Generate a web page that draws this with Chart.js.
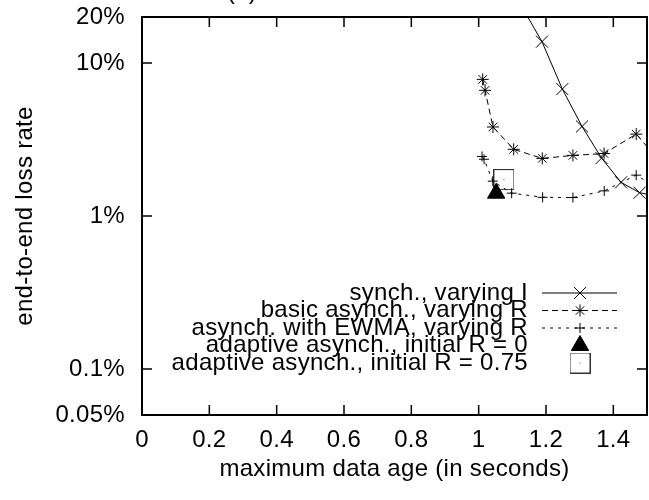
<!DOCTYPE html>
<html>
<head>
<meta charset="utf-8">
<script src="https://cdn.jsdelivr.net/npm/chart.js@4/dist/chart.umd.min.js"></script>
<style>
  html, body { margin: 0; padding: 0; background: #fff; }
  #wrap { width: 649px; height: 500px; position: relative; }
</style>
</head>
<body>
<div id="wrap"><canvas id="chart"></canvas></div>
<script>
// x: maximum data age (seconds), y: end-to-end loss rate (percent)
const synchAge  = [1.13, 1.188, 1.2485, 1.307, 1.365, 1.423, 1.478, 1.537];
const synchLoss = [23, 13.8, 6.76, 3.85, 2.39, 1.66, 1.42, 1.34];

const basicAge  = [1.012, 1.019, 1.0425, 1.104, 1.189, 1.280, 1.3725, 1.468, 1.56];
const basicLoss = [7.82, 6.63, 3.82, 2.73, 2.38, 2.49, 2.56, 3.43, 2.0];

const ewmaAge  = [1.010, 1.016, 1.042, 1.098, 1.19, 1.28, 1.373, 1.468, 1.56];
const ewmaLoss = [2.45, 2.35, 1.69, 1.41, 1.325, 1.32, 1.46, 1.85, 1.39];

const adaptiveR0Age  = [1.052];
const adaptiveR0Loss = [1.41];
const adaptiveR75Age  = [1.075];
const adaptiveR75Loss = [1.73];

const seriesLabels = [
  'synch., varying I',
  'basic asynch., varying R',
  'asynch. with EWMA, varying R',
  'adaptive asynch., initial R = 0',
  'adaptive asynch., initial R = 0.75'
];

const xTickValues = [0, 0.2, 0.4, 0.6, 0.8, 1, 1.2, 1.4];
const yTickValues = [0.05, 0.1, 1, 10, 20];

const FONT_FAMILY = '"Liberation Sans", Arial, Helvetica, sans-serif';
const FONT_SIZE = 24;
const TEXT_SPACING = '0.3px';
const INK = '#000';

const pairs = (xs, ys) => xs.map((x, i) => ({ x, y: ys[i] }));

// open square with a centre dot, used as a point marker
function boxMarker() {
  const c = document.createElement('canvas');
  c.width = 21; c.height = 21;
  const g = c.getContext('2d');
  g.strokeStyle = '#333';
  g.lineWidth = 1;
  g.strokeRect(0.5, 0.5, 20, 20);
  g.fillStyle = '#555';
  g.fillRect(10, 10, 1, 1);
  return c;
}

const spacingPlugin = {
  id: 'textSpacing',
  beforeUpdate(chart) { chart.ctx.letterSpacing = TEXT_SPACING; },
  beforeDraw(chart) { chart.ctx.letterSpacing = TEXT_SPACING; }
};

// border box with inward, mirrored tick marks
const framePlugin = {
  id: 'frame',
  afterDatasetsDraw(chart) {
    const { ctx, chartArea: a, scales: { x, y } } = chart;
    ctx.save();
    ctx.strokeStyle = INK;
    ctx.lineWidth = 1.5;
    ctx.beginPath();
    xTickValues.forEach(v => {
      if (v === x.min || v === x.max) return;
      const px = x.getPixelForValue(v);
      ctx.moveTo(px, a.bottom); ctx.lineTo(px, a.bottom - 10);
      ctx.moveTo(px, a.top);    ctx.lineTo(px, a.top + 10);
    });
    yTickValues.forEach(v => {
      if (v === y.min || v === y.max) return;
      const py = y.getPixelForValue(v);
      ctx.moveTo(a.left, py);  ctx.lineTo(a.left + 10, py);
      ctx.moveTo(a.right, py); ctx.lineTo(a.right - 10, py);
    });
    ctx.stroke();
    ctx.lineWidth = 2;
    ctx.strokeRect(a.left, a.top, a.right - a.left, a.bottom - a.top);
    ctx.restore();
  }
};

// key inside the plot: right-aligned text, sample line and marker to its right
const keyPlugin = {
  id: 'key',
  afterDraw(chart) {
    const { ctx, chartArea: a } = chart;
    const textRight = a.right - 119;
    const lineStart = a.right - 105;
    const lineEnd = a.right - 30;
    const markX = a.right - 67;
    const rowTop = a.bottom - 122;
    const rowStep = 17.5;
    ctx.save();
    ctx.letterSpacing = TEXT_SPACING;
    ctx.font = FONT_SIZE + 'px ' + FONT_FAMILY;
    ctx.textAlign = 'right';
    ctx.textBaseline = 'middle';
    chart.data.datasets.forEach((ds, i) => {
      const yy = rowTop + i * rowStep;
      ctx.fillStyle = INK;
      ctx.fillText(ds.label, textRight, yy);
      if (ds.showLine) {
        ctx.save();
        ctx.strokeStyle = ds.borderColor;
        ctx.lineWidth = ds.borderWidth;
        ctx.setLineDash(ds.borderDash || []);
        ctx.beginPath();
        ctx.moveTo(lineStart, yy);
        ctx.lineTo(lineEnd, yy);
        ctx.stroke();
        ctx.restore();
      }
      ctx.save();
      ctx.strokeStyle = ds.pointBorderColor;
      ctx.fillStyle = ds.pointBackgroundColor;
      ctx.lineWidth = ds.pointBorderWidth;
      Chart.helpers.drawPoint(ctx, {
        pointStyle: ds.pointStyle,
        radius: ds.pointRadius,
        rotation: 0,
        borderWidth: ds.pointBorderWidth
      }, markX, yy);
      ctx.restore();
    });
    // panel caption, mostly above the visible area
    ctx.textAlign = 'center';
    ctx.textBaseline = 'alphabetic';
    ctx.fillText('(a)', 242, -1.5);
    ctx.restore();
  }
};

const lineSeries = (label, data, style, radius, dash) => ({
  label, data,
  showLine: true,
  borderColor: INK,
  borderWidth: 1,
  borderDash: dash,
  pointStyle: style,
  pointRadius: radius,
  pointBorderWidth: 1,
  pointBorderColor: INK,
  pointBackgroundColor: INK,
  tension: 0,
  fill: false,
  clip: 0
});

const tickFont = { family: FONT_FAMILY, size: FONT_SIZE };

new Chart(document.getElementById('chart'), {
  type: 'line',
  data: {
    datasets: [
      lineSeries(seriesLabels[0], pairs(synchAge, synchLoss), 'crossRot', 8.5, []),
      lineSeries(seriesLabels[1], pairs(basicAge, basicLoss), 'star', 6, [6, 4]),
      lineSeries(seriesLabels[2], pairs(ewmaAge, ewmaLoss), 'cross', 5, [3, 5]),
      {
        label: seriesLabels[3], data: pairs(adaptiveR0Age, adaptiveR0Loss),
        showLine: false, pointStyle: 'triangle', pointRadius: 10,
        pointBorderWidth: 1, pointBorderColor: INK, pointBackgroundColor: INK,
        borderColor: INK, clip: 0
      },
      {
        label: seriesLabels[4], data: pairs(adaptiveR75Age, adaptiveR75Loss),
        showLine: false, pointStyle: boxMarker(), pointRadius: 10,
        pointBorderWidth: 1, pointBorderColor: INK, pointBackgroundColor: INK,
        borderColor: INK, clip: 0
      }
    ]
  },
  options: {
    responsive: true,
    maintainAspectRatio: false,
    animation: false,
    events: [],
    layout: { autoPadding: false, padding: { top: 17, right: 2, left: 0, bottom: 0 } },
    plugins: { legend: { display: false }, tooltip: { enabled: false } },
    scales: {
      x: {
        type: 'linear',
        min: 0,
        max: 1.5,
        afterBuildTicks: s => { s.ticks = xTickValues.map(v => ({ value: v })); },
        afterFit: s => { s.height = 85; s.paddingLeft = 0; s.paddingRight = 0; },
        grid: { display: false, drawTicks: false },
        border: { display: false },
        ticks: {
          font: tickFont, color: INK, padding: 11,
          maxRotation: 0, autoSkip: false,
          callback: v => String(v)
        },
        title: {
          display: true, text: 'maximum data age (in seconds)',
          font: tickFont, color: INK, padding: { top: 0, bottom: 16 }
        }
      },
      y: {
        type: 'logarithmic',
        min: 0.05,
        max: 20,
        afterBuildTicks: s => { s.ticks = yTickValues.map(v => ({ value: v })); },
        afterFit: s => { s.width = 142; s.paddingTop = 0; s.paddingBottom = 0; },
        grid: { display: false, drawTicks: false },
        border: { display: false },
        ticks: {
          font: tickFont, color: INK, padding: 17, autoSkip: false,
          callback: v => v + '%'
        },
        title: {
          display: true, text: 'end-to-end loss rate',
          font: tickFont, color: INK, padding: { top: 10.5, bottom: 0 }
        }
      }
    }
  },
  plugins: [spacingPlugin, framePlugin, keyPlugin]
});
</script>
</body>
</html>
